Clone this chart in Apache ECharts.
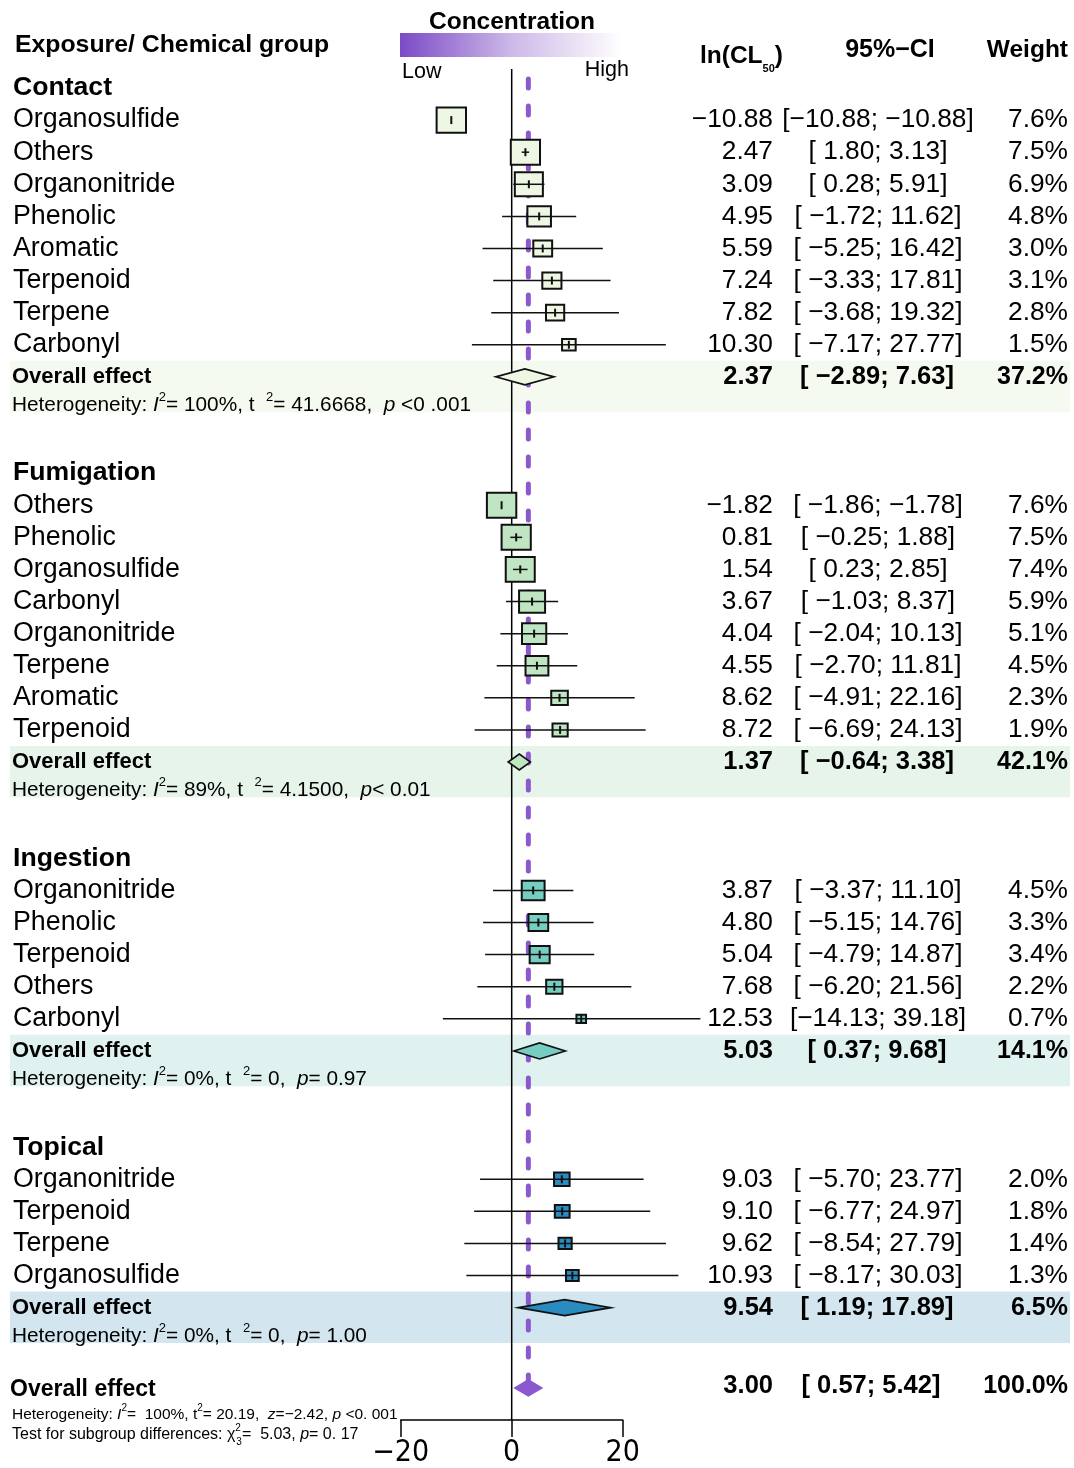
<!DOCTYPE html>
<html><head><meta charset="utf-8">
<script src="https://cdn.jsdelivr.net/npm/echarts@6/dist/echarts.min.js"></script>
<style>html,body{margin:0;padding:0;background:#fff}#c{width:1074px;height:1468px}</style>
</head><body><div id="c"></div>
<script>
// ---------------- data ----------------
const groupNames = ['Contact', 'Fumigation', 'Ingestion', 'Topical'];

const contactNames = ['Organosulfide','Others','Organonitride','Phenolic','Aromatic','Terpenoid','Terpene','Carbonyl'];
const contactEst = [-10.88, 2.47, 3.09, 4.95, 5.59, 7.24, 7.82, 10.30];
const contactLo  = [-10.88, 1.80, 0.28, -1.72, -5.25, -3.33, -3.68, -7.17];
const contactHi  = [-10.88, 3.13, 5.91, 11.62, 16.42, 17.81, 19.32, 27.77];
const contactW   = [7.6, 7.5, 6.9, 4.8, 3.0, 3.1, 2.8, 1.5];

const fumigationNames = ['Others','Phenolic','Organosulfide','Carbonyl','Organonitride','Terpene','Aromatic','Terpenoid'];
const fumigationEst = [-1.82, 0.81, 1.54, 3.67, 4.04, 4.55, 8.62, 8.72];
const fumigationLo  = [-1.86, -0.25, 0.23, -1.03, -2.04, -2.70, -4.91, -6.69];
const fumigationHi  = [-1.78, 1.88, 2.85, 8.37, 10.13, 11.81, 22.16, 24.13];
const fumigationW   = [7.6, 7.5, 7.4, 5.9, 5.1, 4.5, 2.3, 1.9];

const ingestionNames = ['Organonitride','Phenolic','Terpenoid','Others','Carbonyl'];
const ingestionEst = [3.87, 4.80, 5.04, 7.68, 12.53];
const ingestionLo  = [-3.37, -5.15, -4.79, -6.20, -14.13];
const ingestionHi  = [11.10, 14.76, 14.87, 21.56, 39.18];
const ingestionW   = [4.5, 3.3, 3.4, 2.2, 0.7];

const topicalNames = ['Organonitride','Terpenoid','Terpene','Organosulfide'];
const topicalEst = [9.03, 9.10, 9.62, 10.93];
const topicalLo  = [-5.70, -6.77, -8.54, -8.17];
const topicalHi  = [23.77, 24.97, 27.79, 30.03];
const topicalW   = [2.0, 1.8, 1.4, 1.3];

const groupEst = [2.37, 1.37, 5.03, 9.54];
const groupLo  = [-2.89, -0.64, 0.37, 1.19];
const groupHi  = [7.63, 3.38, 9.68, 17.89];
const groupW   = [37.2, 42.1, 14.1, 6.5];
const groupI2   = ['100%', '89%', '0%', '0%'];
const groupTau2 = ['41.6668', '4.1500', '0', '0'];
const groupP    = [' <0 .001', '< 0.01', '= 0.97', '= 1.00'];

const totalEst = 3.00, totalLo = 0.57, totalHi = 5.42, totalW = 100.0;
const totalHet = {I2: '100%', tau2: '20.19', z: '−2.42', p: ' <0. 001'};
const subgroupTest = {chi2: '5.03', df: '3', p: '= 0. 17'};

const xTicks = [-20, 0, 20];

// ---------------- styling ----------------
const FF = '"Liberation Sans", Arial, Helvetica, sans-serif';
const groupBox  = ['#eef7e3', '#bfe5c3', '#76cdc2', '#2a8bc0'];
const groupBand = ['#f5faf0', '#e7f4e9', '#e0f2f0', '#d3e5ee'];
const PURPLE = '#8b58cf';
const CLIP = [-12.4, 34.0]; // display limits for CI whiskers

const groups = [
  {names: contactNames, est: contactEst, lo: contactLo, hi: contactHi, w: contactW},
  {names: fumigationNames, est: fumigationEst, lo: fumigationLo, hi: fumigationHi, w: fumigationW},
  {names: ingestionNames, est: ingestionEst, lo: ingestionLo, hi: ingestionHi, w: ingestionW},
  {names: topicalNames, est: topicalEst, lo: topicalLo, hi: topicalHi, w: topicalW}
];

// ---------------- rows ----------------
const rows = [];
let k = 0;
groups.forEach((g, gi) => {
  rows.push({type: 'header', k: k, g: gi});
  k++;
  g.names.forEach((n, i) => {
    rows.push({type: 'study', k: k, g: gi, name: n, est: g.est[i], lo: g.lo[i], hi: g.hi[i], w: g.w[i]});
    k++;
  });
  rows.push({type: 'overall', k: k, g: gi});
  rows.push({type: 'het', k: k + 0.88, g: gi});
  k += 3;
});
const totalK = k - 3 + 2.5;
rows.push({type: 'total', k: totalK});
rows.push({type: 'totalHet', k: totalK + 0.84});
rows.push({type: 'test', k: totalK + 1.46});

function fmt(v) { return (v < 0 ? '−' : '') + Math.abs(v).toFixed(2); }
function fmtCI(lo, hi) { return '[' + (Math.abs(lo) < 10 ? ' ' : '') + fmt(lo) + '; ' + fmt(hi) + ']'; }

function txt(x, y, text, o) {
  const st = Object.assign({text: text, fill: '#000', fontFamily: FF, fontSize: 26.3, fontWeight: 'normal',
    align: 'left', verticalAlign: 'middle'}, o || {});
  st.textAlign = st.align; st.textVerticalAlign = st.verticalAlign;
  return {type: 'text', x: x, y: y, style: st};
}

const hetRich = (fs) => ({
  it: {fontStyle: 'italic', fontSize: fs, fontFamily: FF, lineHeight: fs + 8},
  sup: {fontSize: Math.round(fs * 0.62), fontFamily: FF, lineHeight: Math.round(fs * 0.62), verticalAlign: 'top'},
  supn: {fontSize: Math.round(fs * 0.62), fontFamily: FF, lineHeight: Math.round(fs * 0.62), verticalAlign: 'top', width: 1},
  sub: {fontSize: Math.round(fs * 0.62), fontFamily: FF, lineHeight: Math.round(fs * 0.62), verticalAlign: 'bottom'}
});

function diamond(api, est, lo, hi, kk, fill, stroke) {
  const c = api.coord([est, kk]), a = api.coord([lo, kk]), b = api.coord([hi, kk]);
  const h = 8;
  return {type: 'polygon', shape: {points: [[a[0], c[1]], [c[0], c[1] - h], [b[0], c[1]], [c[0], c[1] + h]]},
    style: {fill: fill, stroke: stroke, lineWidth: 1.6}};
}

function renderRow(params, api) {
  const r = rows[params.dataIndex];
  const y = api.coord([0, r.k])[1];
  const ch = [];
  if (r.type === 'header') {
    ch.push(txt(13, y, groupNames[r.g], {fontWeight: 'bold', fontSize: 26.6}));
  } else if (r.type === 'study') {
    ch.push(txt(13, y, r.name, {fontSize: 26.8}));
    ch.push(txt(773, y, fmt(r.est), {align: 'right'}));
    ch.push(txt(878, y, fmtCI(r.lo, r.hi), {align: 'center'}));
    ch.push(txt(1068, y, r.w.toFixed(1) + '%', {align: 'right'}));
    const c = api.coord([r.est, r.k]);
    const a = api.coord([Math.max(r.lo, CLIP[0]), r.k]);
    const b = api.coord([Math.min(r.hi, CLIP[1]), r.k]);
    const bw = 10.3 * Math.sqrt(r.w) + 1, bh = bw * 0.855;
    ch.push({type: 'rect', shape: {x: c[0] - bw / 2, y: c[1] - bh / 2, width: bw, height: bh},
      style: {fill: groupBox[r.g], stroke: '#111', lineWidth: 2}});
    if (b[0] - a[0] > 0.5) {
      ch.push({type: 'line', shape: {x1: a[0], y1: c[1], x2: b[0], y2: c[1]}, style: {stroke: '#111', lineWidth: 1.5}});
    }
    const th = Math.min(8, bh);
    ch.push({type: 'line', shape: {x1: c[0], y1: c[1] - th / 2, x2: c[0], y2: c[1] + th / 2}, style: {stroke: '#111', lineWidth: 2}});
  } else if (r.type === 'overall') {
    const g = r.g;
    ch.push(txt(12, y, 'Overall effect', {fontWeight: 'bold', fontSize: 22}));
    ch.push(txt(773, y, fmt(groupEst[g]), {align: 'right', fontWeight: 'bold', fontSize: 25.5}));
    ch.push(txt(877, y, fmtCI(groupLo[g], groupHi[g]), {align: 'center', fontWeight: 'bold', fontSize: 25.5}));
    ch.push(txt(1068, y, groupW[g].toFixed(1) + '%', {align: 'right', fontWeight: 'bold', fontSize: 25}));
    ch.push(diamond(api, groupEst[g], groupLo[g], groupHi[g], r.k, groupBox[g], '#111'));
  } else if (r.type === 'het') {
    const g = r.g;
    const s = 'Heterogeneity: {it|I}{sup|2}= ' + groupI2[g] + ', t  {sup|2}= ' + groupTau2[g] + ',  {it|p}' + groupP[g];
    ch.push(txt(12, y, s, {fontSize: 20.8, lineHeight: 28, rich: hetRich(20.8)}));
  } else if (r.type === 'total') {
    ch.push(txt(10, y + 2, 'Overall effect', {fontWeight: 'bold', fontSize: 23}));
    ch.push(txt(773, y - 2, fmt(totalEst), {align: 'right', fontWeight: 'bold', fontSize: 25.5}));
    ch.push(txt(871, y - 2, fmtCI(totalLo, totalHi), {align: 'center', fontWeight: 'bold', fontSize: 25.5}));
    ch.push(txt(1068, y - 2, totalW.toFixed(1) + '%', {align: 'right', fontWeight: 'bold', fontSize: 25}));
    ch.push(diamond(api, totalEst, totalLo, totalHi, r.k, PURPLE, PURPLE));
  } else if (r.type === 'totalHet') {
    const s = 'Heterogeneity: {it|I}{sup|2}=  ' + totalHet.I2 + ', t{sup|2}= ' + totalHet.tau2 + ',  {it|z}=' + totalHet.z + ', {it|p}' + totalHet.p;
    ch.push(txt(12, y, s, {fontSize: 15.5, lineHeight: 22, rich: hetRich(15.5)}));
  } else if (r.type === 'test') {
    const s = 'Test for subgroup differences: χ{supn|2}{sub|' + subgroupTest.df + '}=  ' + subgroupTest.chi2 + ', {it|p}' + subgroupTest.p;
    ch.push(txt(12, y, s, {fontSize: 16, lineHeight: 22, rich: hetRich(16)}));
  }
  return {type: 'group', children: ch};
}

function renderBand(params, api) {
  const r = rows[params.dataIndex];
  if (r.type !== 'overall') return null;
  const y1 = api.coord([0, r.k - 0.5])[1], y2 = api.coord([0, r.k + 1.1])[1];
  return {type: 'rect', shape: {x: 10, y: y1, width: 1060, height: y2 - y1}, style: {fill: groupBand[r.g]}};
}

const rowData = rows.map((r, i) => [0, r.k, i]);

const chart = echarts.init(document.getElementById('c'), null, {renderer: 'canvas'});
const hdr = (x, y, text, align, fs) => ({type: 'text', x: x, y: y, style: {text: text, fontFamily: FF, fontWeight: 'bold', fontSize: fs || 24.5, fill: '#000',
  align: align, textAlign: align, verticalAlign: 'middle', textVerticalAlign: 'middle'}});
const option = {
  animation: false,
  backgroundColor: '#fff',
  grid: {left: 400.7, right: 1074 - 622.7, top: 88 - 2 * 32.1, bottom: 1468 - (88 + 41.5 * 32.1)},
  xAxis: {
    type: 'value', position: 'bottom', min: xTicks[0], max: xTicks[xTicks.length - 1], interval: xTicks[1] - xTicks[0],
    splitLine: {show: false},
    axisLine: {show: true, onZero: false, lineStyle: {color: '#000', width: 1.5}},
    axisTick: {show: true, length: 17, lineStyle: {color: '#000', width: 1.5}},
    axisLabel: {color: '#000', fontSize: 30, fontFamily: '"Liberation Sans Narrow", "Arial Narrow", "DejaVu Sans Condensed", sans-serif',
      margin: 18, formatter: v => (v < 0 ? '−' + Math.abs(v) : String(v))}
  },
  yAxis: {type: 'value', inverse: true, min: -2, max: 41.5, show: false},
  series: [
    {type: 'custom', z: 1, renderItem: renderBand, data: rowData, clip: false, silent: true},
    {type: 'line', z: 2, data: [[0, -0.59], [0, 41.5]], symbol: 'none', lineStyle: {color: '#000', width: 1.5}, silent: true},
    {type: 'line', z: 3, data: [[totalEst, -0.28], [totalEst, totalK - 0.2]], symbol: 'none',
      lineStyle: {color: PURPLE, width: 5, type: [9, 18], cap: 'round'}, silent: true},
    {type: 'custom', z: 4, renderItem: renderRow, data: rowData, clip: false, silent: true}
  ],
  graphic: [
    hdr(15, 45, 'Exposure/ Chemical group', 'left', 24.8),
    hdr(512, 22, 'Concentration', 'center', 24.5),
    {type: 'rect', shape: {x: 400, y: 33, width: 222, height: 24},
      style: {fill: new echarts.graphic.LinearGradient(0, 0, 1, 0, [{offset: 0, color: '#7b4bc6'}, {offset: 0.5, color: '#cdb8e8'}, {offset: 1, color: '#ffffff'}])}},
    {type: 'text', x: 402, y: 72, style: {text: 'Low', fontFamily: FF, fontSize: 21.5, fill: '#000', verticalAlign: 'middle', textVerticalAlign: 'middle'}},
    {type: 'text', x: 629, y: 70, style: {text: 'High', fontFamily: FF, fontSize: 21.5, fill: '#000', align: 'right', textAlign: 'right', verticalAlign: 'middle', textVerticalAlign: 'middle'}},
    {type: 'text', x: 700, y: 56, style: {text: 'ln(CL{sub|50})', fontFamily: FF, fontWeight: 'bold', fontSize: 24.5, lineHeight: 36, fill: '#000', verticalAlign: 'middle', textVerticalAlign: 'middle',
      rich: {sub: {fontSize: 11, fontWeight: 'bold', fontFamily: FF, lineHeight: 12, verticalAlign: 'bottom'}}}},
    hdr(890, 50, '95%−CI', 'center', 25),
    hdr(1068, 50, 'Weight', 'right', 24.5)
  ]
};
chart.setOption(option);
</script>
</body></html>
